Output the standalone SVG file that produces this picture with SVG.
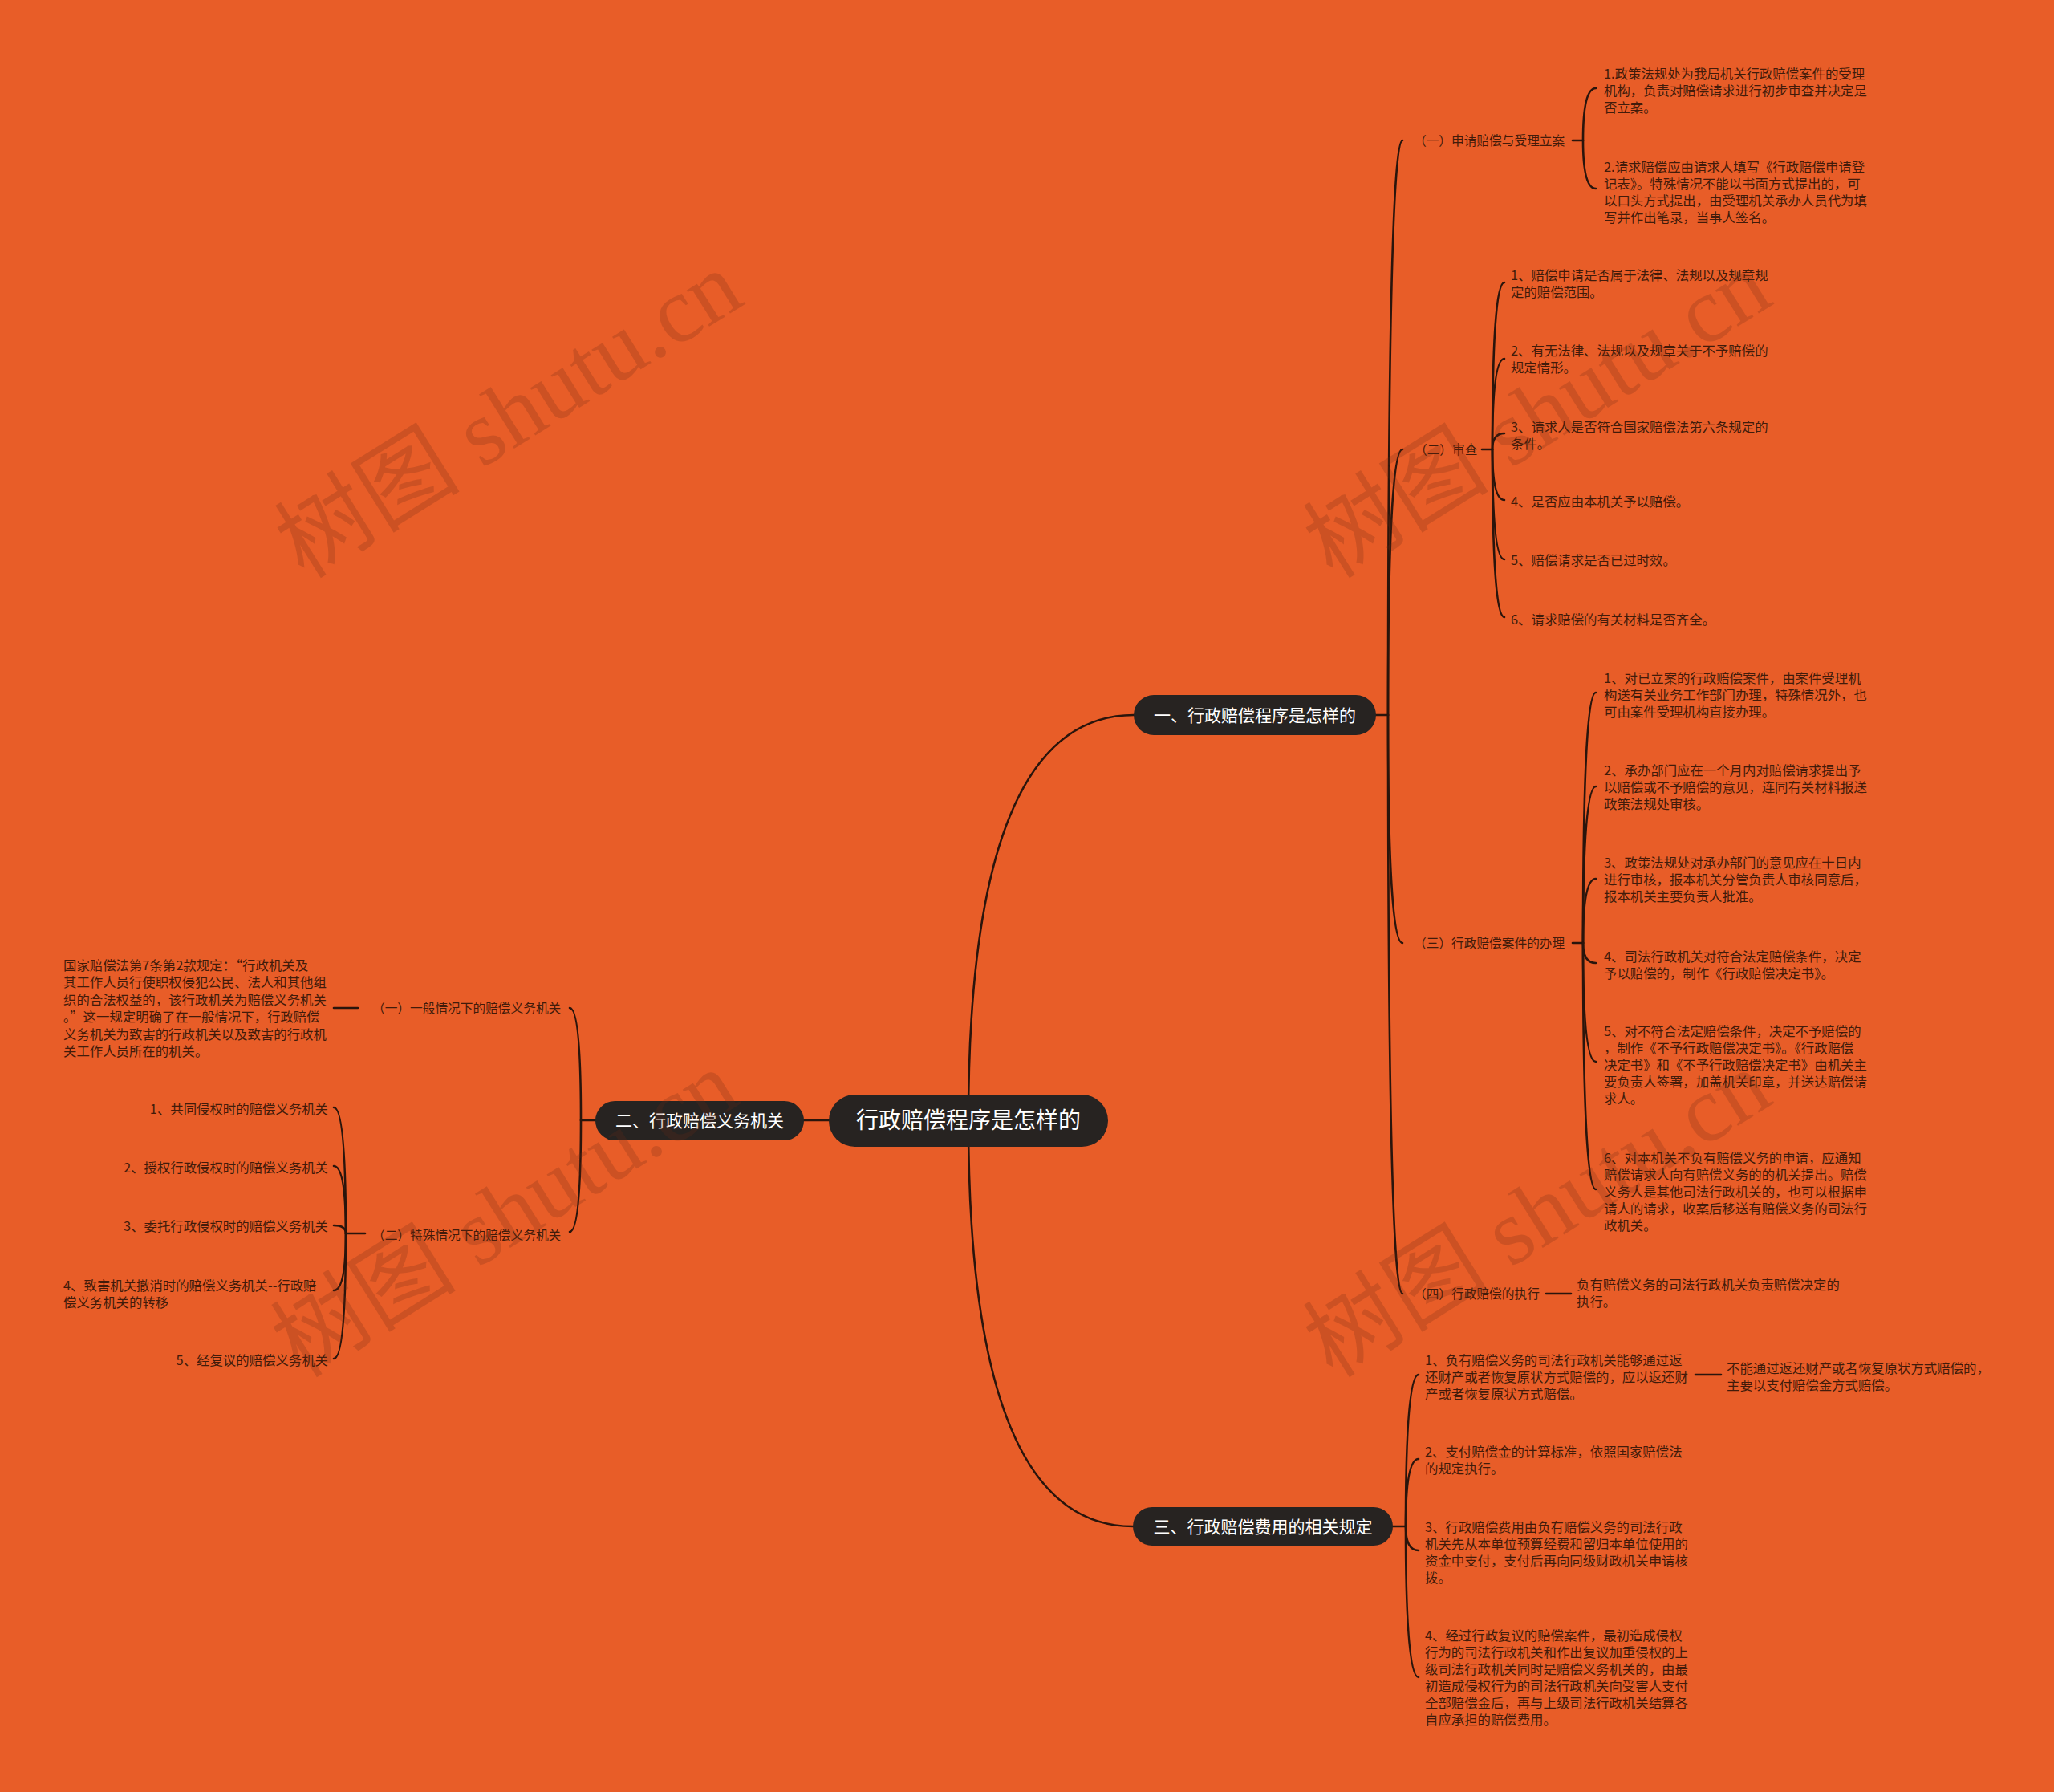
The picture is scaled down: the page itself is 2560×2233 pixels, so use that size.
<svg xmlns="http://www.w3.org/2000/svg" width="2560" height="2233" viewBox="0 0 2560 2233">
<style>
.bg{fill:#E85D28}
.ln{fill:none;stroke:#2a150c;stroke-width:2.6;stroke-linecap:round}
.box{fill:#272321}
.t{font-family:"Noto Sans CJK SC","Noto Sans",sans-serif;font-size:16.4px;fill:#421b0a}
.l{font-size:15.7px}
.nt{font-family:"Noto Sans CJK SC","Noto Sans",sans-serif;font-size:21px;fill:#ffffff;text-anchor:middle}
.rt{font-family:"Noto Sans CJK SC","Noto Sans",sans-serif;font-size:28px;fill:#ffffff;text-anchor:middle}
.e{text-anchor:end}
.wm{font-family:"Liberation Serif","Noto Sans CJK SC",serif;font-size:116px;fill:#6b2a14;opacity:0.22;text-anchor:middle}
</style>
<rect class="bg" x="0" y="0" width="2560" height="2233"/>

<g id="connectors">
<path class="ln" d="M1207 1396 Q1207 891 1413 891"/>
<path class="ln" d="M1207 1396 Q1207 1902 1412 1902"/>
<path class="ln" d="M1033 1396 L1002 1396"/>
<path class="ln" d="M1715 891 L1730 891"/>
<path class="ln" d="M1730 891 Q1730 175 1748 175"/>
<path class="ln" d="M1730 891 Q1730 560 1748 560"/>
<path class="ln" d="M1730 891 Q1730 1175 1748 1175"/>
<path class="ln" d="M1730 891 Q1730 1612 1748 1612"/>
<path class="ln" d="M1960 175 L1973 175"/>
<path class="ln" d="M1973 175 Q1973 110 1989 110"/>
<path class="ln" d="M1973 175 Q1973 235 1989 235"/>
<path class="ln" d="M1847 560 L1860 560"/>
<path class="ln" d="M1860 560 Q1860 352 1875 352"/>
<path class="ln" d="M1860 560 Q1860 447 1875 447"/>
<path class="ln" d="M1860 560 Q1860 540 1875 540"/>
<path class="ln" d="M1860 560 Q1860 623 1875 623"/>
<path class="ln" d="M1860 560 Q1860 697 1875 697"/>
<path class="ln" d="M1860 560 Q1860 769 1875 769"/>
<path class="ln" d="M1960 1175 L1973 1175"/>
<path class="ln" d="M1973 1175 Q1973 863 1989 863"/>
<path class="ln" d="M1973 1175 Q1973 980 1989 980"/>
<path class="ln" d="M1973 1175 Q1973 1095 1989 1095"/>
<path class="ln" d="M1973 1175 Q1973 1200 1989 1200"/>
<path class="ln" d="M1973 1175 Q1973 1323 1989 1323"/>
<path class="ln" d="M1973 1175 Q1973 1482 1989 1482"/>
<path class="ln" d="M1927 1612 L1958 1612"/>
<path class="ln" d="M1736 1902 L1752 1902"/>
<path class="ln" d="M1752 1902 Q1752 1713 1768 1713"/>
<path class="ln" d="M1752 1902 Q1752 1818 1768 1818"/>
<path class="ln" d="M1752 1902 Q1752 1932 1768 1932"/>
<path class="ln" d="M1752 1902 Q1752 2090 1768 2090"/>
<path class="ln" d="M2113 1713 L2145 1713"/>
<path class="ln" d="M742 1396 L724 1396"/>
<path class="ln" d="M724 1396 Q724 1256 710 1256"/>
<path class="ln" d="M724 1396 Q724 1535 710 1535"/>
<path class="ln" d="M446 1256 L416 1256"/>
<path class="ln" d="M455 1537 L431 1537"/>
<path class="ln" d="M431 1537 Q431 1380 416 1380"/>
<path class="ln" d="M431 1537 Q431 1453 416 1453"/>
<path class="ln" d="M431 1537 Q431 1527 416 1527"/>
<path class="ln" d="M431 1537 Q431 1608 416 1608"/>
<path class="ln" d="M431 1537 Q431 1693 416 1693"/>
</g>

<g id="root">
<rect class="box" x="1033" y="1364" width="348" height="65" rx="32.5"/>
<text class="rt" x="1207" y="1406">行政赔偿程序是怎样的</text>
</g>

<g id="n1">
<rect class="box" x="1413" y="866" width="302" height="50" rx="25"/>
<text class="nt" x="1564" y="899">一、行政赔偿程序是怎样的</text>
</g>
<g id="n2">
<rect class="box" x="742" y="1372" width="260" height="49" rx="24.5"/>
<text class="nt" x="872" y="1404">二、行政赔偿义务机关</text>
</g>
<g id="n3">
<rect class="box" x="1412" y="1878" width="324" height="48" rx="24"/>
<text class="nt" x="1574" y="1910">三、行政赔偿费用的相关规定</text>
</g>

<g id="n1-1"><text class="t l" x="1762" y="181">（一）申请赔偿与受理立案</text></g>
<g id="n1-1-1"><text class="t" y="98"><tspan x="1999">1.政策法规处为我局机关行政赔偿案件的受理</tspan><tspan x="1999" dy="21">机构，负责对赔偿请求进行初步审查并决定是</tspan><tspan x="1999" dy="21">否立案。</tspan></text></g>
<g id="n1-1-2"><text class="t" y="214"><tspan x="1999">2.请求赔偿应由请求人填写《行政赔偿申请登</tspan><tspan x="1999" dy="21">记表》。特殊情况不能以书面方式提出的，可</tspan><tspan x="1999" dy="21">以口头方式提出，由受理机关承办人员代为填</tspan><tspan x="1999" dy="21">写并作出笔录，当事人签名。</tspan></text></g>

<g id="n1-2"><text class="t l" x="1763" y="566">（二）审查</text></g>
<g id="n1-2-1"><text class="t" y="349"><tspan x="1883">1、赔偿申请是否属于法律、法规以及规章规</tspan><tspan x="1883" dy="21">定的赔偿范围。</tspan></text></g>
<g id="n1-2-2"><text class="t" y="443"><tspan x="1883">2、有无法律、法规以及规章关于不予赔偿的</tspan><tspan x="1883" dy="21">规定情形。</tspan></text></g>
<g id="n1-2-3"><text class="t" y="538"><tspan x="1883">3、请求人是否符合国家赔偿法第六条规定的</tspan><tspan x="1883" dy="21">条件。</tspan></text></g>
<g id="n1-2-4"><text class="t" x="1883" y="631">4、是否应由本机关予以赔偿。</text></g>
<g id="n1-2-5"><text class="t" x="1883" y="704">5、赔偿请求是否已过时效。</text></g>
<g id="n1-2-6"><text class="t" x="1883" y="778">6、请求赔偿的有关材料是否齐全。</text></g>

<g id="n1-3"><text class="t l" x="1762" y="1181">（三）行政赔偿案件的办理</text></g>
<g id="n1-3-1"><text class="t" y="851"><tspan x="1999">1、对已立案的行政赔偿案件，由案件受理机</tspan><tspan x="1999" dy="21">构送有关业务工作部门办理，特殊情况外，也</tspan><tspan x="1999" dy="21">可由案件受理机构直接办理。</tspan></text></g>
<g id="n1-3-2"><text class="t" y="966"><tspan x="1999">2、承办部门应在一个月内对赔偿请求提出予</tspan><tspan x="1999" dy="21">以赔偿或不予赔偿的意见，连同有关材料报送</tspan><tspan x="1999" dy="21">政策法规处审核。</tspan></text></g>
<g id="n1-3-3"><text class="t" y="1081"><tspan x="1999">3、政策法规处对承办部门的意见应在十日内</tspan><tspan x="1999" dy="21">进行审核，报本机关分管负责人审核同意后，</tspan><tspan x="1999" dy="21">报本机关主要负责人批准。</tspan></text></g>
<g id="n1-3-4"><text class="t" y="1198"><tspan x="1999">4、司法行政机关对符合法定赔偿条件，决定</tspan><tspan x="1999" dy="21">予以赔偿的，制作《行政赔偿决定书》。</tspan></text></g>
<g id="n1-3-5"><text class="t" y="1291"><tspan x="1999">5、对不符合法定赔偿条件，决定不予赔偿的</tspan><tspan x="1999" dy="21">，制作《不予行政赔偿决定书》。《行政赔偿</tspan><tspan x="1999" dy="21">决定书》和《不予行政赔偿决定书》由机关主</tspan><tspan x="1999" dy="21">要负责人签署，加盖机关印章，并送达赔偿请</tspan><tspan x="1999" dy="21">求人。</tspan></text></g>
<g id="n1-3-6"><text class="t" y="1449"><tspan x="1999">6、对本机关不负有赔偿义务的申请，应通知</tspan><tspan x="1999" dy="21">赔偿请求人向有赔偿义务的的机关提出。赔偿</tspan><tspan x="1999" dy="21">义务人是其他司法行政机关的，也可以根据申</tspan><tspan x="1999" dy="21">请人的请求，收案后移送有赔偿义务的司法行</tspan><tspan x="1999" dy="21">政机关。</tspan></text></g>

<g id="n1-4"><text class="t l" x="1762" y="1618">（四）行政赔偿的执行</text></g>
<g id="n1-4-1"><text class="t" y="1607"><tspan x="1965">负有赔偿义务的司法行政机关负责赔偿决定的</tspan><tspan x="1965" dy="21">执行。</tspan></text></g>

<g id="n3-1"><text class="t" y="1701"><tspan x="1776">1、负有赔偿义务的司法行政机关能够通过返</tspan><tspan x="1776" dy="21">还财产或者恢复原状方式赔偿的，应以返还财</tspan><tspan x="1776" dy="21">产或者恢复原状方式赔偿。</tspan></text></g>
<g id="n3-1-1"><text class="t" y="1711"><tspan x="2152">不能通过返还财产或者恢复原状方式赔偿的，</tspan><tspan x="2152" dy="21">主要以支付赔偿金方式赔偿。</tspan></text></g>
<g id="n3-2"><text class="t" y="1815"><tspan x="1776">2、支付赔偿金的计算标准，依照国家赔偿法</tspan><tspan x="1776" dy="21">的规定执行。</tspan></text></g>
<g id="n3-3"><text class="t" y="1909"><tspan x="1776">3、行政赔偿费用由负有赔偿义务的司法行政</tspan><tspan x="1776" dy="21">机关先从本单位预算经费和留归本单位使用的</tspan><tspan x="1776" dy="21">资金中支付，支付后再向同级财政机关申请核</tspan><tspan x="1776" dy="21">拨。</tspan></text></g>
<g id="n3-4"><text class="t" y="2044"><tspan x="1776">4、经过行政复议的赔偿案件，最初造成侵权</tspan><tspan x="1776" dy="21">行为的司法行政机关和作出复议加重侵权的上</tspan><tspan x="1776" dy="21">级司法行政机关同时是赔偿义务机关的，由最</tspan><tspan x="1776" dy="21">初造成侵权行为的司法行政机关向受害人支付</tspan><tspan x="1776" dy="21">全部赔偿金后，再与上级司法行政机关结算各</tspan><tspan x="1776" dy="21">自应承担的赔偿费用。</tspan></text></g>

<g id="n2-1"><text class="t l" x="464" y="1262">（一）一般情况下的赔偿义务机关</text></g>
<g id="n2-1-1"><text class="t" y="1209"><tspan x="79">国家赔偿法第7条第2款规定：“行政机关及</tspan><tspan x="79" dy="21.4">其工作人员行使职权侵犯公民、法人和其他组</tspan><tspan x="79" dy="21.4">织的合法权益的，该行政机关为赔偿义务机关</tspan><tspan x="79" dy="21.4">。”这一规定明确了在一般情况下，行政赔偿</tspan><tspan x="79" dy="21.4">义务机关为致害的行政机关以及致害的行政机</tspan><tspan x="79" dy="21.4">关工作人员所在的机关。</tspan></text></g>
<g id="n2-2"><text class="t l" x="464" y="1545">（二）特殊情况下的赔偿义务机关</text></g>
<g id="n2-2-1"><text class="t e" x="409" y="1388">1、共同侵权时的赔偿义务机关</text></g>
<g id="n2-2-2"><text class="t e" x="409" y="1461">2、授权行政侵权时的赔偿义务机关</text></g>
<g id="n2-2-3"><text class="t e" x="409" y="1534">3、委托行政侵权时的赔偿义务机关</text></g>
<g id="n2-2-4"><text class="t" y="1608"><tspan x="79">4、致害机关撤消时的赔偿义务机关--行政赔</tspan><tspan x="79" dy="21">偿义务机关的转移</tspan></text></g>
<g id="n2-2-5"><text class="t e" x="409" y="1701">5、经复议的赔偿义务机关</text></g>

<g id="watermarks">
<text class="wm" transform="translate(655 550) rotate(-32)">树图 shutu.cn</text>
<text class="wm" transform="translate(1937 550) rotate(-32)">树图 shutu.cn</text>
<text class="wm" transform="translate(650 1546) rotate(-32)">树图 shutu.cn</text>
<text class="wm" transform="translate(1937 1546) rotate(-32)">树图 shutu.cn</text>
</g>
</svg>
